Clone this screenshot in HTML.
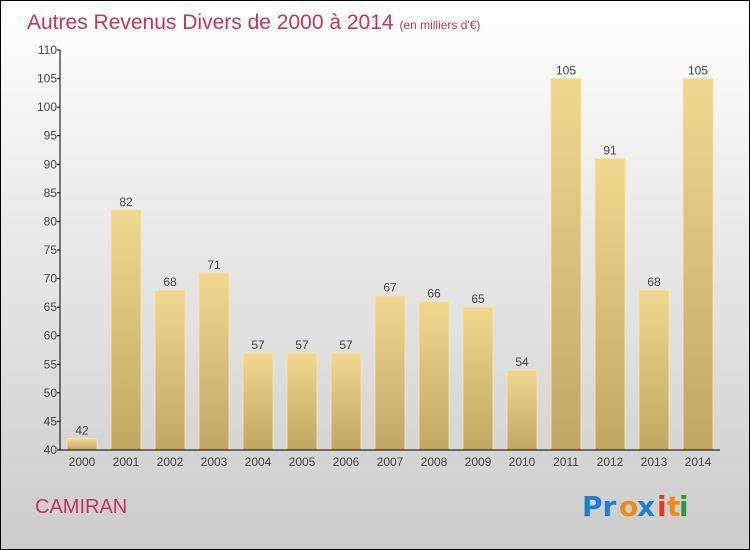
<!DOCTYPE html>
<html><head><meta charset="utf-8"><style>
body{margin:0}
svg{display:block;font-family:"Liberation Sans",sans-serif}
</style></head><body>
<svg width="750" height="550" viewBox="0 0 750 550">
<defs>
<linearGradient id="bg" x1="0" y1="0" x2="0" y2="1"><stop offset="0" stop-color="#ffffff"/><stop offset="1" stop-color="#cccccc"/></linearGradient>
<linearGradient id="bar" x1="0" y1="0" x2="0" y2="1"><stop offset="0" stop-color="#f2d78f"/><stop offset="1" stop-color="#c2a761"/></linearGradient>
</defs>
<rect x="0.5" y="0.5" width="749" height="549" fill="url(#bg)" stroke="#000"/>
<text x="27" y="29" font-size="21" fill="#c8325f">Autres Revenus Divers de 2000 à 2014 <tspan font-size="12">(en milliers d'€)</tspan></text>
<g id="bars"></g>
<g id="yaxis"></g>
<g id="xaxis"></g>
<text x="35" y="513" font-size="20" fill="#c8325f">CAMIRAN</text>
<g font-size="28" font-family="'DejaVu Sans',sans-serif" font-weight="bold">
<text x="582" y="516" fill="#1a7fd6">Pr</text><text x="619" y="516" fill="#f08a10">o</text><text x="637" y="516" fill="#1a7fd6">x</text><text x="657" y="516" fill="#e03a1a">i</text><text x="667" y="516" fill="#f08a10">t</text><text x="679" y="516" fill="#2a9a3a">i</text>
</g>
</svg>
<script>
const years=["2000","2001","2002","2003","2004","2005","2006","2007","2008","2009","2010","2011","2012","2013","2014"];
const values=[42,82,68,71,57,57,57,67,66,65,54,105,91,68,105];
const yTicks=[40,45,50,55,60,65,70,75,80,85,90,95,100,105,110];
const NS="http://www.w3.org/2000/svg";
const x0=60,slot=44,yMin=40,yMax=110,yTop=50,yBot=450;
const y=v=>yBot-(v-yMin)/(yMax-yMin)*(yBot-yTop);
const xc=i=>x0+slot*i+slot/2;
function mk(t,a,p,txt){const e=document.createElementNS(NS,t);for(const k in a)e.setAttribute(k,a[k]);if(txt!==undefined)e.textContent=txt;p.appendChild(e);return e;}
const gb=document.getElementById('bars'),gy=document.getElementById('yaxis'),gx=document.getElementById('xaxis');
values.forEach((v,i)=>{
 const r=mk('rect',{x:xc(i)-15,y:y(v),width:30,height:yBot-y(v),fill:'url(#bar)',stroke:'#f7e4a8','stroke-width':1},gb);
 
 
 const t=mk('text',{x:xc(i),y:y(v)-4,'text-anchor':'middle','font-size':12,fill:'#444'},gb,String(v));
 
 
 const l=mk('text',{x:xc(i),y:466,'text-anchor':'middle','font-size':12,fill:'#444'},gx,years[i]);
 
 
});
const ya=mk('line',{x1:x0,y1:yTop,x2:x0,y2:yBot,stroke:'#000'},gy);


const xa=mk('line',{x1:x0,y1:yBot,x2:x0+slot*years.length,y2:yBot,stroke:'#000'},gx);


yTicks.forEach(v=>{
 mk('line',{x1:x0-3,y1:y(v),x2:x0,y2:y(v),stroke:'#000'},gy);
 const t=mk('text',{x:x0-3,y:y(v)+4,'text-anchor':'end','font-size':12,fill:'#444'},gy,String(v));
 
 
});
</script>
</body></html>
